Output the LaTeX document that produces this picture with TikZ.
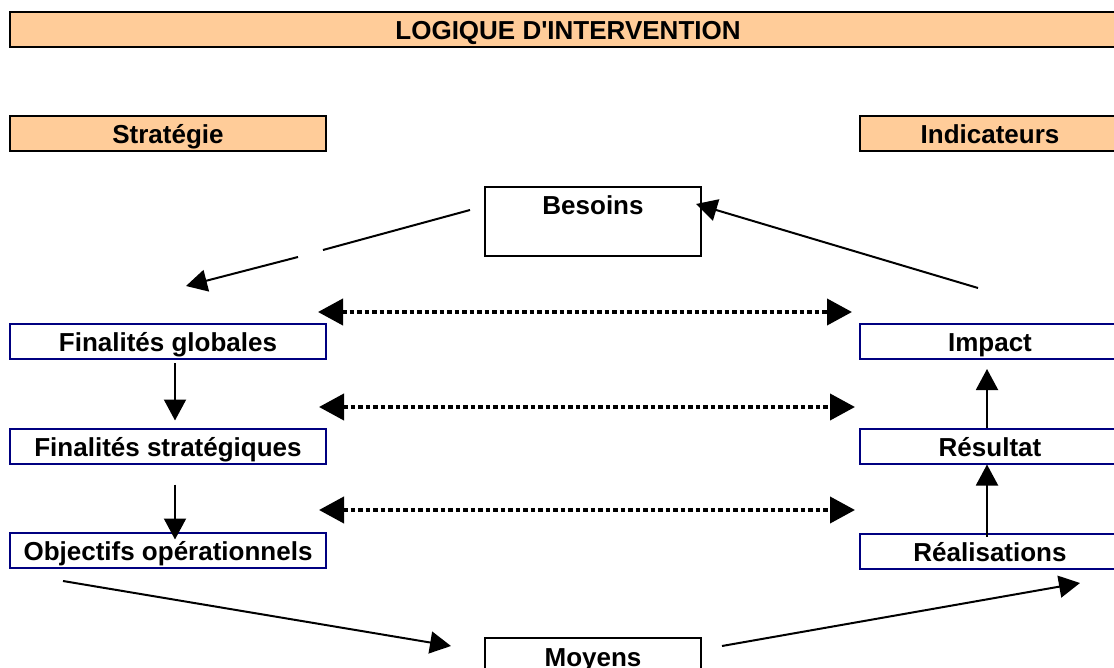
\documentclass[tikz,border=0pt]{standalone}
\usepackage{fontspec}
\setmainfont{Liberation Sans}
\usepackage{xcolor}
\usetikzlibrary{arrows.meta}
\definecolor{orangebox}{HTML}{FFCC99}
\definecolor{navyline}{HTML}{000080}

\begin{document}
\begin{tikzpicture}[x=1pt,y=-1pt]
\tikzset{>={Triangle[width=22pt,length=21pt]}}
\tikzstyle{lbl} =[inner sep=0pt,font=\fontsize{26}{30}\selectfont\bfseries]
\tikzstyle{headbox} =[lbl,draw=black,fill=orangebox,line width=2pt,minimum height=35pt,text height=21pt,text depth=0pt]
\tikzstyle{levelbox} =[lbl,draw=navyline,fill=white,line width=2pt,minimum height=35pt,text height=21pt,text depth=0pt]
\tikzstyle{plainbox} =[draw=black,line width=2pt,minimum width=216pt,minimum height=69pt]
\tikzset{flow/.style={->,line width=2pt},
dotflow/.style={<->,>={Triangle[width=26pt,length=25pt]},line width=4pt,dash pattern=on 4.5pt off 3pt}}

\useasboundingbox (0,0) rectangle (1114,668);

\node[headbox,minimum width=1116pt](tit) at (568,29.5){LOGIQUE D\textquotesingle INTERVENTION};
\node[headbox,minimum width=316pt](strat) at (168,133.5){Stratégie};
\node[headbox,minimum width=260pt](ind) at (990,133.5){Indicateurs};

\node[plainbox](bes) at (593,221.5){};
\node[lbl,anchor=base](bestxt) at (593,215){Besoins};
\node[plainbox](moy) at (593,672.5){};
\node[lbl,anchor=base](moytxt) at (593,666){Moyens};

\node[levelbox,minimum width=316pt](fg) at (168,341.5){Finalités globales};
\node[levelbox,minimum width=316pt](fs) at (168,446){Finalités stratégiques};
\node[levelbox,minimum width=316pt](oo) at (168,550){Objectifs opérationnels};
\node[levelbox,minimum width=260pt](imp) at (990,341.5){Impact};
\node[levelbox,minimum width=260pt](res) at (990,446){Résultat};
\node[levelbox,minimum width=260pt](real) at (990,551){Réalisations};

\coordinate (b1) at (470,210);
\coordinate (b2) at (323,250);
\coordinate (b3) at (298,257);
\coordinate (b4) at (186,286);
\coordinate (i1) at (978,288);
\coordinate (b5) at (696,204);
\coordinate (o1) at (63,581);
\coordinate (m1) at (451,646);
\coordinate (m2) at (722,646);
\coordinate (r1) at (1080,583);

\draw[line width=2pt] (b1) -- (b2);
\draw[flow] (b3) -- (b4);
\draw[flow] (i1) -- (b5);
\draw[flow] (o1) -- (m1);
\draw[flow] (m2) -- (r1);

\draw[flow,shorten <=3pt,shorten >=7pt] ([xshift=7pt]fg.south) -- ([xshift=7pt]fs.north);
\draw[flow,shorten <=20pt,shorten >=-8pt] ([xshift=7pt]fs.south) -- ([xshift=7pt]oo.north);
\draw[flow,shorten >=9pt] ([xshift=-3pt]res.north) -- ([xshift=-3pt]imp.south);
\draw[flow,shorten <=-4pt] ([xshift=-3pt]real.north) -- ([xshift=-3pt]res.south);

\coordinate (d1l) at (318,312);
\coordinate (d1r) at (852,312);
\coordinate (d2l) at (319,407);
\coordinate (d2r) at (855,407);
\coordinate (d3l) at (319,510);
\coordinate (d3r) at (855,510);
\draw[dotflow] (d1l) -- (d1r);
\draw[dotflow] (d2l) -- (d2r);
\draw[dotflow] (d3l) -- (d3r);
\end{tikzpicture}
\end{document}
